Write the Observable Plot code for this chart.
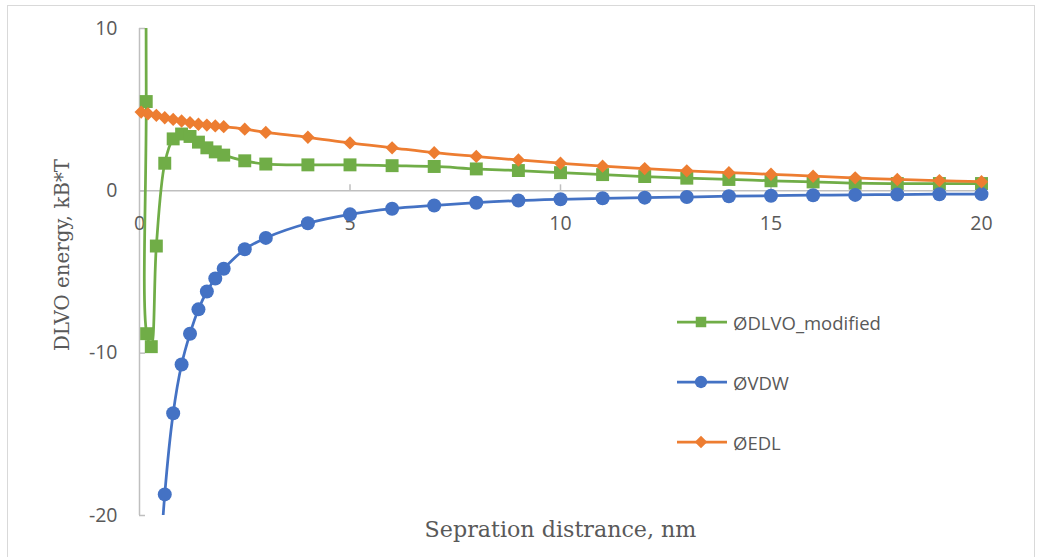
<!DOCTYPE html>
<html>
<head>
<meta charset="utf-8">
<script src="https://cdn.jsdelivr.net/npm/d3@7"></script>
<script src="https://cdn.jsdelivr.net/npm/@observablehq/plot@0.6"></script>
<style>
  body { margin: 0; background: #fff; }
  #wrap { position: relative; width: 1039px; height: 557px; overflow: hidden; background: #fff; }
  #border { position: absolute; left: 7px; top: 5px; width: 1028px; height: 620px; border: 1px solid #d9d9d9; box-sizing: border-box; }
  #chart { position: absolute; left: 0; top: 0; }
  .legend-item { position: absolute; display: flex; align-items: center; font-family: "Open Sans", sans-serif; font-size: 18.5px; color: #595959; white-space: nowrap; }
  .legend-item svg { margin-right: 5px; }
</style>
</head>
<body>
<div id="wrap">
  <div id="border"></div>
  <div id="chart"></div>
</div>
<script>
// ---- Data ----
const dlvoX = [0.14, 0.16, 0.17, 0.28, 0.4, 0.6, 0.8, 1.0, 1.2, 1.4, 1.6, 1.8, 2.0, 2.5, 3, 4, 5, 6, 7, 8, 9, 10, 11, 12, 13, 14, 15, 16, 17, 18, 19, 20];
const dlvoY = [30, 5.5, -8.8, -9.6, -3.4, 1.7, 3.2, 3.5, 3.35, 3.0, 2.65, 2.4, 2.2, 1.85, 1.65, 1.6, 1.6, 1.55, 1.5, 1.35, 1.25, 1.12, 1.0, 0.88, 0.78, 0.7, 0.62, 0.55, 0.47, 0.45, 0.45, 0.45];

const vdwX = [0.4, 0.6, 0.8, 1.0, 1.2, 1.4, 1.6, 1.8, 2.0, 2.5, 3, 4, 5, 6, 7, 8, 9, 10, 11, 12, 13, 14, 15, 16, 17, 18, 19, 20];
const vdwY = [-27, -18.7, -13.7, -10.7, -8.8, -7.3, -6.2, -5.4, -4.8, -3.6, -2.9, -2.0, -1.45, -1.1, -0.9, -0.73, -0.6, -0.52, -0.46, -0.42, -0.38, -0.33, -0.3, -0.27, -0.25, -0.23, -0.21, -0.2];

const edlX = [0.04, 0.2, 0.4, 0.6, 0.8, 1.0, 1.2, 1.4, 1.6, 1.8, 2.0, 2.5, 3, 4, 5, 6, 7, 8, 9, 10, 11, 12, 13, 14, 15, 16, 17, 18, 19, 20];
const edlY = [4.85, 4.75, 4.65, 4.5, 4.4, 4.3, 4.2, 4.1, 4.05, 4.0, 3.95, 3.8, 3.6, 3.3, 2.95, 2.65, 2.35, 2.12, 1.9, 1.7, 1.52, 1.37, 1.23, 1.12, 1.02, 0.9, 0.8, 0.7, 0.63, 0.56];

const seriesNames = ["ØDLVO_modified", "ØVDW", "ØEDL"];
const xTicks = [0, 5, 10, 15, 20];
const yTicks = [-20, -10, 0, 10];
const xTitle = "Sepration distrance, nm";
const yTitle = "DLVO energy, kB*T";

// ---- Build tables ----
const rows = (xs, ys) => xs.map((x, i) => ({x, y: ys[i]}));
const green = rows(dlvoX, dlvoY);
const blue = rows(vdwX, vdwY);
const orange = rows(edlX, edlY);
const inDomain = d => d.y <= 10 && d.y >= -20;

const C = {green: "#70ad47", blue: "#4472c4", orange: "#ed7d31", axis: "#bfbfbf", text: "#595959"};
const tickFont = {fontFamily: "Open Sans, sans-serif", fontSize: 19.5, fill: C.text};
const titleFont = "DejaVu Serif, serif";

const chart = Plot.plot({
  width: 1039,
  height: 557,
  marginLeft: 139,
  marginRight: 58,
  marginTop: 28,
  marginBottom: 42,
  style: {background: "transparent", overflow: "visible"},
  x: {domain: [0, 20], axis: null},
  y: {domain: [-20, 10], axis: null},
  marks: [
    // axis lines
    Plot.ruleX([0], {stroke: C.axis, strokeWidth: 1.5}),
    Plot.ruleY([0], {stroke: C.axis, strokeWidth: 1.5}),
    // tick marks (inside)
    Plot.ruleX(xTicks.filter(d => d !== 0), {x: d => d, y1: () => 0, y2: () => 0, insetTop: -6, stroke: C.axis, strokeWidth: 1.5}),
    Plot.ruleY(yTicks, {y: d => d, x1: () => 0, x2: () => 0, insetRight: -6, stroke: C.axis, strokeWidth: 1.5}),
    // tick labels
    Plot.text(yTicks, {y: d => d, text: d => String(d), frameAnchor: "left", textAnchor: "end", dx: -22, ...tickFont}),
    Plot.text(xTicks, {x: d => d, y: () => 0, text: d => String(d), dy: 33, ...tickFont}),
    // axis titles
    Plot.text([yTitle], {text: d => d, frameAnchor: "left", textAnchor: "middle", dx: -77, dy: -17, rotate: -90, fontFamily: titleFont, fontSize: 19.8, fill: C.text}),
    Plot.text([xTitle], {text: d => d, frameAnchor: "bottom", textAnchor: "middle", dy: 21, fontFamily: titleFont, fontSize: 22.2, fill: C.text}),
    // series: DLVO modified
    Plot.line(green, {x: "x", y: "y", stroke: C.green, strokeWidth: 2.75, curve: "catmull-rom", clip: true}),
    Plot.dot(green.filter(inDomain), {x: "x", y: "y", symbol: "square", r: 7.3, fill: C.green, stroke: "none"}),
    // series: VDW
    Plot.line(blue, {x: "x", y: "y", stroke: C.blue, strokeWidth: 2.75, curve: "catmull-rom", clip: true}),
    Plot.dot(blue.filter(inDomain), {x: "x", y: "y", symbol: "circle", r: 7, fill: C.blue, stroke: "none"}),
    // series: EDL
    Plot.line(orange, {x: "x", y: "y", stroke: C.orange, strokeWidth: 2.75, curve: "catmull-rom", clip: true}),
    Plot.dot(orange.filter(inDomain), {x: "x", y: "y", symbol: "diamond2", r: 6, fill: C.orange, stroke: "none"})
  ]
});
document.getElementById("chart").appendChild(chart);

// ---- Legend ----
const legendSpec = [
  {name: seriesNames[0], color: C.green, sym: d3.symbolSquare, size: 110},
  {name: seriesNames[1], color: C.blue, sym: d3.symbolCircle, size: 120},
  {name: seriesNames[2], color: C.orange, sym: d3.symbolDiamond2, size: 100}
];
const wrap = document.getElementById("wrap");
legendSpec.forEach((s, i) => {
  const item = document.createElement("div");
  item.className = "legend-item";
  item.style.left = "676px";
  item.style.top = (322 + i * 60 - 14) + "px";
  item.style.height = "28px";
  const svg = d3.create("svg").attr("width", 52).attr("height", 28);
  svg.append("line").attr("x1", 1).attr("x2", 51).attr("y1", 14).attr("y2", 14)
    .attr("stroke", s.color).attr("stroke-width", 2.75);
  svg.append("path").attr("d", d3.symbol(s.sym, s.size)()).attr("transform", "translate(25,14)").attr("fill", s.color);
  item.appendChild(svg.node());
  const span = document.createElement("span");
  span.textContent = s.name;
  item.appendChild(span);
  wrap.appendChild(item);
});
</script>
</body>
</html>
